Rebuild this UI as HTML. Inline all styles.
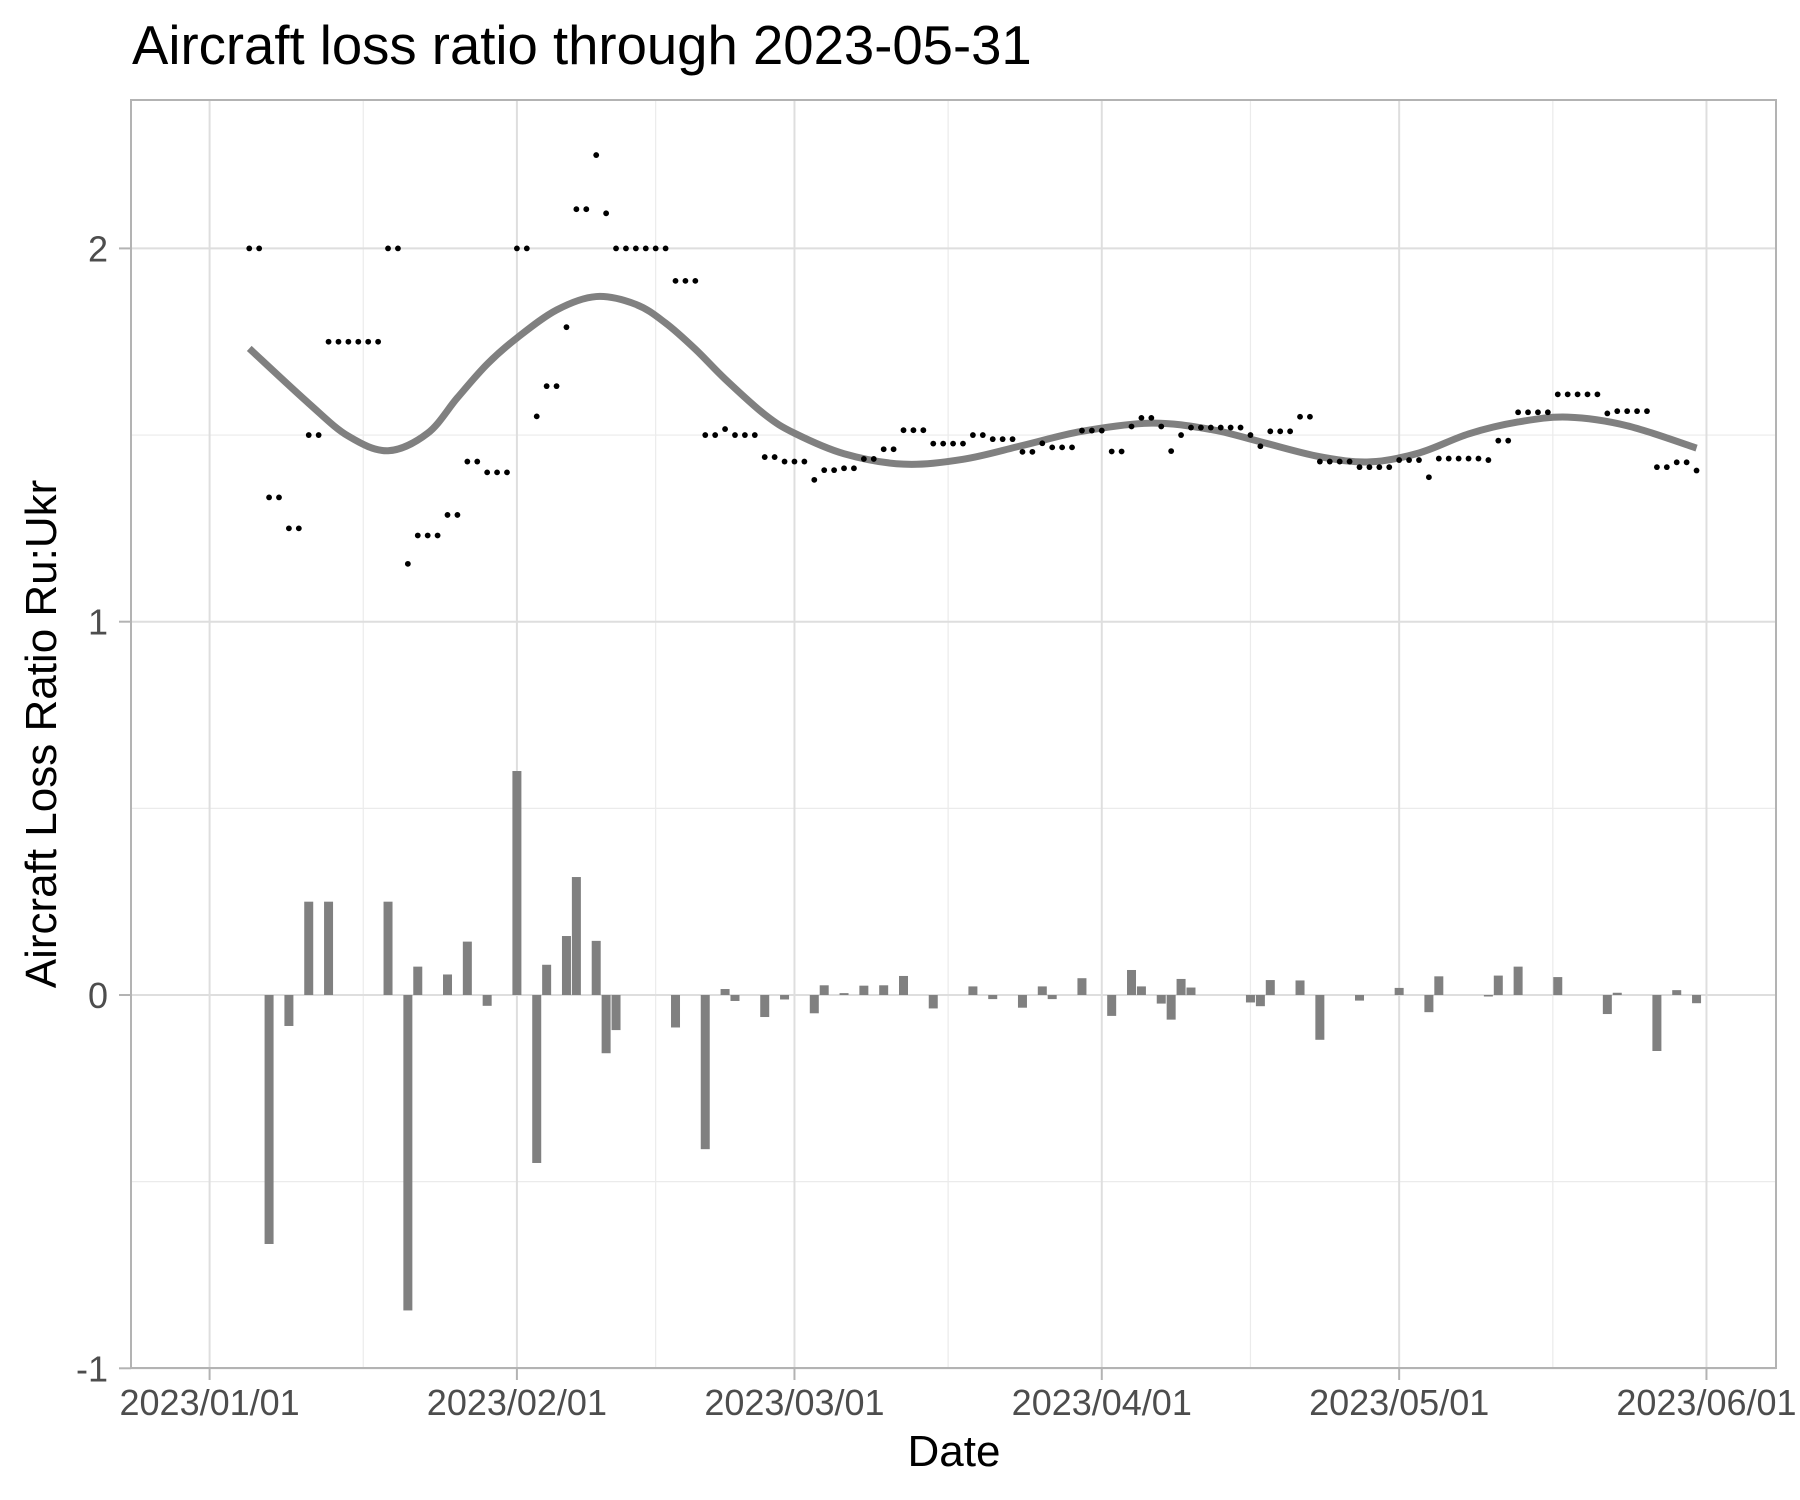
<!DOCTYPE html>
<html><head><meta charset="utf-8"><style>
html,body{margin:0;padding:0;background:#fff;}
svg{display:block;font-family:"Liberation Sans",Arial,sans-serif;}
</style></head><body>
<svg id="chart" width="1800" height="1500" viewBox="0 0 1800 1500">
<text x="132" y="64" font-size="54.5" fill="#000">Aircraft loss ratio through 2023-05-31</text>
<g id="grid"></g>
<g id="bars"></g>
<path id="smooth" fill="none" stroke="#808080" stroke-width="7" stroke-linejoin="round"/>
<g id="points"></g>
<rect x="131" y="100" width="1645" height="1268" fill="none" stroke="#b3b3b3" stroke-width="2"/>
<g id="axes"></g>
<text x="954" y="1466" font-size="44" text-anchor="middle" fill="#000">Date</text>
<text transform="translate(56,734) rotate(-90)" font-size="44" text-anchor="middle" fill="#000">Aircraft Loss Ratio Ru:Ukr</text>
</svg>
<script>
// day index from 2023-01-01 (day 0); points start at day 4
const startDay = 4;
const ratioValues = [
2.0,2.0,1.333,1.333,1.25,1.25,1.5,1.5,1.75,1.75,1.75,1.75,1.75,1.75,2.0,2.0,
1.155,1.231,1.231,1.231,1.286,1.286,1.429,1.429,1.4,1.4,1.4,2.0,2.0,1.55,1.631,1.631,
1.789,2.105,2.105,2.25,2.094,2.0,2.0,2.0,2.0,2.0,2.0,1.913,1.913,1.913,1.5,1.5,
1.516,1.5,1.5,1.5,1.441,1.441,1.429,1.429,1.429,1.380,1.406,1.406,1.411,1.411,1.436,1.436,
1.462,1.462,1.513,1.513,1.513,1.477,1.477,1.477,1.477,1.5,1.5,1.489,1.489,1.489,1.455,1.455,
1.478,1.467,1.467,1.467,1.512,1.512,1.512,1.456,1.456,1.523,1.546,1.546,1.523,1.457,1.5,1.52,
1.52,1.52,1.52,1.52,1.52,1.5,1.47,1.51,1.51,1.51,1.549,1.549,1.429,1.429,1.429,1.429,
1.414,1.414,1.414,1.414,1.433,1.433,1.433,1.387,1.437,1.437,1.437,1.437,1.437,1.433,1.485,1.485,
1.561,1.561,1.561,1.561,1.609,1.609,1.609,1.609,1.609,1.558,1.564,1.564,1.564,1.564,1.414,1.414,
1.427,1.427,1.405];
const smoothDays = [4,10,14,18,22,25,28,31,35,39,43,46,49,52,56,59,64,70,76,82,88,95,101,106,112,117,122,127,132,137,143,150];
const smoothValues = [1.732,1.585,1.497,1.458,1.505,1.60,1.69,1.76,1.835,1.871,1.85,1.80,1.73,1.65,1.555,1.505,1.45,1.422,1.435,1.472,1.51,1.532,1.515,1.482,1.442,1.428,1.452,1.503,1.535,1.548,1.525,1.465];
const yTicks = [-1,0,1,2];
const yMinor = [-0.5,0.5,1.5];
const xTickDays = [0,31,59,90,120,151];
const xTickLabels = ["2023/01/01","2023/02/01","2023/03/01","2023/04/01","2023/05/01","2023/06/01"];

const NS="http://www.w3.org/2000/svg";
const X = d => 209.6 + d*9.913;
const Y = v => 995 - v*373.3;
function mk(tag, attrs, parent){const e=document.createElementNS(NS,tag);for(const k in attrs)e.setAttribute(k,attrs[k]);parent.appendChild(e);return e;}
const grid=document.getElementById('grid'), axes=document.getElementById('axes');
yMinor.forEach(v=>{const l=mk('line',{x1:131,x2:1776,y1:Y(v),y2:Y(v),stroke:'#ebebeb','stroke-width':1.2},grid);

});
for(let i=0;i<xTickDays.length;i++){
  const a=xTickDays[i], b=i+1<xTickDays.length?xTickDays[i+1]:xTickDays[i]+30;
  const xm=(X(a)+X(b))/2; if(xm>1776) continue;
  const l=mk('line',{x1:xm,x2:xm,y1:100,y2:1368,stroke:'#ebebeb','stroke-width':1.2},grid);
  
  
}
yTicks.forEach(v=>{
  const l=mk('line',{x1:131,x2:1776,y1:Y(v),y2:Y(v),stroke:'#dedede','stroke-width':2},grid);
  
  
  const t=mk('line',{x1:119,x2:131,y1:Y(v),y2:Y(v),stroke:'#b3b3b3','stroke-width':2},axes);
  
  
  const tx=mk('text',{x:108,y:Y(v)+13,'font-size':36,'text-anchor':'end',fill:'#4d4d4d'},axes);
  tx.textContent=String(v);
  
  
});
xTickDays.forEach((d,i)=>{
  const x=X(d);
  const l=mk('line',{x1:x,x2:x,y1:100,y2:1368,stroke:'#dedede','stroke-width':2},grid);
  
  
  const t=mk('line',{x1:x,x2:x,y1:1368,y2:1380,stroke:'#b3b3b3','stroke-width':2},axes);
  
  
  const tx=mk('text',{x:x,y:1415,'font-size':36,'text-anchor':'middle',fill:'#4d4d4d'},axes);
  tx.textContent=xTickLabels[i];
  
  
});
const bars=document.getElementById('bars');
for(let i=1;i<ratioValues.length;i++){
  const diff=ratioValues[i]-ratioValues[i-1];
  if(Math.abs(diff)<1e-9) continue;
  const x=X(startDay+i);
  const y0=Y(0), y1=Y(diff);
  const r=mk('rect',{x:x-4.5,y:Math.min(y0,y1),width:9,height:Math.max(Math.abs(y1-y0),0.8),fill:'#808080'},bars);
  
  
}
const sp=smoothDays.map((d,i)=>[X(d),Y(smoothValues[i])]);
let dstr='M'+sp[0][0]+','+sp[0][1];
for(let i=0;i<sp.length-1;i++){
  const p0=sp[Math.max(i-1,0)],p1=sp[i],p2=sp[i+1],p3=sp[Math.min(i+2,sp.length-1)];
  const c1=[p1[0]+(p2[0]-p0[0])/6,p1[1]+(p2[1]-p0[1])/6];
  const c2=[p2[0]-(p3[0]-p1[0])/6,p2[1]-(p3[1]-p1[1])/6];
  dstr+=' C'+c1[0]+','+c1[1]+' '+c2[0]+','+c2[1]+' '+p2[0]+','+p2[1];
}
document.getElementById('smooth').setAttribute('d',dstr);
const pts=document.getElementById('points');
ratioValues.forEach((v,i)=>{
  const c=mk('circle',{cx:X(startDay+i),cy:Y(v),r:2.9,fill:'#000'},pts);
  
  
});
</script>
</body></html>
